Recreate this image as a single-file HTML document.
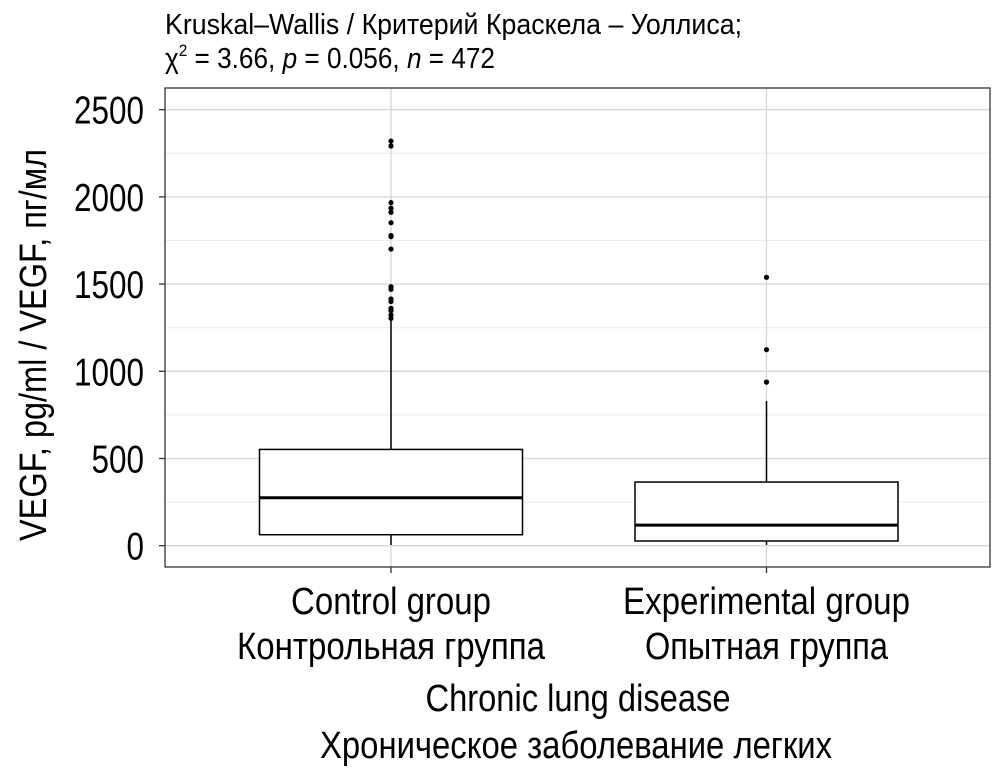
<!DOCTYPE html>
<html><head><meta charset="utf-8"><style>
body{margin:0;background:#fff;}
svg text{font-family:"Liberation Sans","DejaVu Sans Condensed",sans-serif;fill:#000;}
</style></head><body>
<svg id="chart" width="992" height="773" xmlns="http://www.w3.org/2000/svg">
<text x="165" y="34" font-size="29" textLength="577" lengthAdjust="spacingAndGlyphs">Kruskal–Wallis / Критерий Краскела – Уоллиса;</text>
<text x="165" y="68" font-size="29" textLength="330" lengthAdjust="spacingAndGlyphs">χ<tspan dy="-12" font-size="17">2</tspan><tspan dy="12"> = 3.66, </tspan><tspan font-style="italic">p</tspan> = 0.056, <tspan font-style="italic">n</tspan> = 472</text>
<g id="plot"></g>
<text transform="translate(46,345) rotate(-90)" text-anchor="middle" font-size="38" textLength="392" lengthAdjust="spacingAndGlyphs">VEGF, pg/ml / VEGF, пг/мл</text>
<text x="578" y="711" text-anchor="middle" font-size="38" textLength="305" lengthAdjust="spacingAndGlyphs">Chronic lung disease</text>
<text x="576" y="758" text-anchor="middle" font-size="38" textLength="512" lengthAdjust="spacingAndGlyphs">Хроническое заболевание легких</text>
</svg>
<script>
const categories=["Control group","Experimental group"];
const categoriesRu=["Контрольная группа","Опытная группа"];
const lowerWhisker=[4,4];
const q1=[63,27];
const median=[275,118];
const q3=[552,365];
const upperWhisker=[1294,830];
const outliers=[[2320,2292,1967,1935,1912,1852,1778,1772,1701,1485,1470,1415,1400,1361,1348,1323,1304],[1539,1124,938]];
const yTicks=[0,500,1000,1500,2000,2500];
const yMinor=[250,750,1250,1750,2250];

const labelW=[200,287], labelRuW=[308,243];
const L=165,R=990,T=88,B=567;
const y=v=>545.7-v*(436/2500);
const xc=i=>391+i*375.5;
const hw=131.5;
const g=document.getElementById('plot');
const NS='http://www.w3.org/2000/svg';
function mk(tag,at){const e=document.createElementNS(NS,tag);for(const k in at)e.setAttribute(k,at[k]);g.appendChild(e);return e;}
let e;
e=mk('rect',{x:L,y:T,width:R-L,height:B-T,fill:'#fff'});


yMinor.forEach(v=>{e=mk('line',{x1:L,x2:R,y1:y(v),y2:y(v),stroke:'#ebebeb','stroke-width':1});

});
yTicks.forEach(v=>{e=mk('line',{x1:L,x2:R,y1:y(v),y2:y(v),stroke:'#d6d6d6','stroke-width':1.3});


e=mk('line',{x1:159,x2:L,y1:y(v),y2:y(v),stroke:'#333','stroke-width':1.3});


const s=String(v);
e=mk('text',{x:144,y:y(v)+14,'text-anchor':'end','font-size':39,textLength:s.length*17.5,lengthAdjust:'spacingAndGlyphs'});e.textContent=s;

});
categories.forEach((c,i)=>{const x=xc(i);
e=mk('line',{x1:x,x2:x,y1:T,y2:B,stroke:'#d6d6d6','stroke-width':1.3});


e=mk('line',{x1:x,x2:x,y1:y(q3[i]),y2:y(upperWhisker[i]),stroke:'#000','stroke-width':1.5});


e=mk('line',{x1:x,x2:x,y1:y(q1[i]),y2:y(lowerWhisker[i]),stroke:'#000','stroke-width':1.5});


e=mk('rect',{x:x-hw,y:y(q3[i]),width:2*hw,height:y(q1[i])-y(q3[i]),fill:'#fff',stroke:'#000','stroke-width':1.5});


e=mk('line',{x1:x-hw,x2:x+hw,y1:y(median[i]),y2:y(median[i]),stroke:'#000','stroke-width':3});


outliers[i].forEach(v=>{e=mk('circle',{cx:x,cy:y(v),r:2.6,fill:'#000'});

});
e=mk('line',{x1:x,x2:x,y1:B,y2:B+6,stroke:'#333','stroke-width':1.3});


e=mk('text',{x:x,y:614,'text-anchor':'middle','font-size':38,textLength:labelW[i],lengthAdjust:'spacingAndGlyphs'});e.textContent=c;


e=mk('text',{x:x,y:659,'text-anchor':'middle','font-size':38,textLength:labelRuW[i],lengthAdjust:'spacingAndGlyphs'});e.textContent=categoriesRu[i];


});
e=mk('rect',{x:L,y:T,width:R-L,height:B-T,fill:'none',stroke:'#333','stroke-width':1.3});


</script>
</body></html>
